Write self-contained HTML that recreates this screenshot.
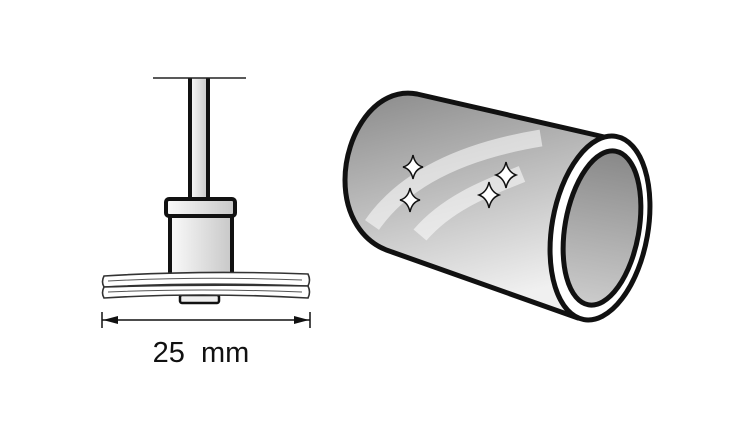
<!DOCTYPE html>
<html><head><style>body{margin:0;background:#fff}svg{display:block}</style></head><body>
<svg width="750" height="421" viewBox="0 0 750 421" xmlns="http://www.w3.org/2000/svg">
<defs>
<linearGradient id="g1" x1="0" y1="0" x2="0.3" y2="1"><stop offset="0" stop-color="#8a8a8a"/><stop offset="1" stop-color="#f0f0f0"/></linearGradient>
<linearGradient id="g2" x1="0" y1="0" x2="1" y2="0"><stop offset="0" stop-color="#fafafa"/><stop offset="1" stop-color="#c8c8c8"/></linearGradient>
<linearGradient id="g3" x1="0" y1="0" x2="0" y2="1"><stop offset="0" stop-color="#888"/><stop offset="1" stop-color="#ccc"/></linearGradient>
</defs>
<!-- tool -->
<rect x="190" y="78" width="18" height="122" fill="url(#g2)"/>
<path d="M190,78 V200 M208,78 V200" stroke="#111" stroke-width="4"/>
<line x1="153" y1="78" x2="246" y2="78" stroke="#222" stroke-width="1.5"/>
<rect x="170" y="215" width="62" height="64" fill="url(#g2)" stroke="#111" stroke-width="4"/>
<rect x="166" y="199" width="69" height="17" rx="3" fill="url(#g2)" stroke="#111" stroke-width="4"/>
<rect x="180" y="295" width="39" height="8" rx="2" fill="#eee" stroke="#111" stroke-width="2.5"/>
<g fill="#fff" stroke="#333" stroke-width="1.6">
<path d="M104,276 Q200,270 308,274 Q311,280 308,286 Q200,282 104,287 Q101,282 104,276Z"/>
<path d="M104,287 Q200,284 308,286 Q311,292 308,298 Q200,292 104,298 Q101,293 104,287Z"/>
</g>
<path d="M108,281 Q200,276 302,280 M108,292 Q200,288 302,292" stroke="#555" stroke-width="1" fill="none"/>
<line x1="102" y1="320" x2="310" y2="320" stroke="#111" stroke-width="1.5"/>
<line x1="102" y1="312" x2="102" y2="328" stroke="#111" stroke-width="1.5"/>
<line x1="310" y1="312" x2="310" y2="328" stroke="#111" stroke-width="1.5"/>
<path d="M103,320 L118,316 L118,324Z M309,320 L294,316 L294,324Z" fill="#111"/>
<text x="201" y="362" font-family="Liberation Sans, sans-serif" font-size="29" text-anchor="middle" fill="#111" xml:space="preserve">25  mm</text>
<!-- cylinder -->
<path d="M613,139 L417,94 C375,86 345,135 345,180 C345,215 362,243 392,252 L578,318 Z" fill="url(#g1)" stroke="#111" stroke-width="5" stroke-linejoin="round"/>
<g fill="none" stroke="#fff" stroke-opacity="0.55" stroke-width="17">
<path d="M372,225 C410,170 480,148 541,138"/>
<path d="M420,235 C450,200 495,185 522,174"/>
</g>
<ellipse cx="600" cy="228" rx="48" ry="93" transform="rotate(10 600 228)" fill="#fff" stroke="#111" stroke-width="5"/>
<ellipse cx="602" cy="228" rx="37" ry="78" transform="rotate(10 602 228)" fill="url(#g3)" stroke="#111" stroke-width="5"/>
<g fill="#fff" stroke="#111" stroke-width="1.5">
<path d="M413,155 Q415,165 423,167 Q415,169 413,179 Q411,169 403,167 Q411,165 413,155Z"/>
<path d="M410,188 Q412,198 420,200 Q412,202 410,212 Q408,202 400,200 Q408,198 410,188Z"/>
<path d="M506,162 Q508,172 516,175 Q508,178 506,188 Q504,178 496,175 Q504,172 506,162Z"/>
<path d="M489,182 Q491,192 499,195 Q491,198 489,208 Q487,198 479,195 Q487,192 489,182Z"/>
</g>
</svg>
</body></html>
